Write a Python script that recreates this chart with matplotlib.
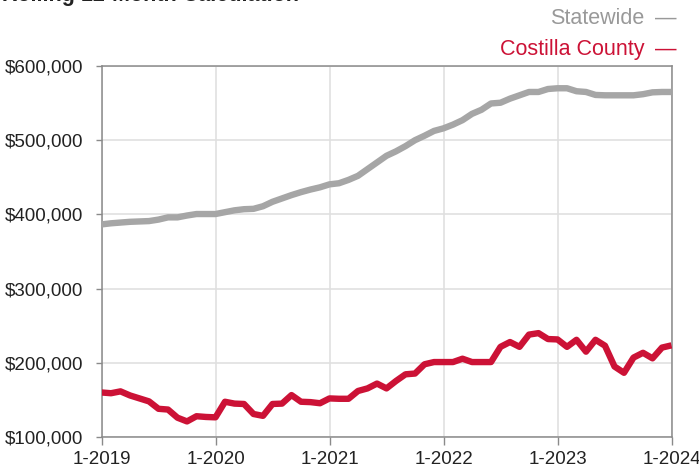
import matplotlib
matplotlib.use("Agg")
import matplotlib.pyplot as plt
from matplotlib.ticker import FuncFormatter

plt.rcParams['font.family'] = ['Liberation Sans', 'DejaVu Sans']

# Monthly data, 1-2019 .. 1-2024 (61 months)
statewide = [
    386.5, 388, 389, 390, 390.5, 391, 393, 396, 396, 398.5, 400.5, 400.5,
    400.5, 403, 405.5, 407, 407.5, 411, 417, 421.5, 426, 430, 433.5, 436.5,
    440.5, 442, 446.5, 452, 461, 470, 479, 485, 492, 500, 506, 512.5,
    516, 521, 527, 535.5, 541, 549.5, 550.5, 556, 560.5, 565, 565, 569,
    570, 570, 566, 565, 561, 560.5, 560.5, 560.5, 560.5, 562, 564.5, 565,
    565,
]
costilla = [
    160, 159, 161.5, 156, 152, 148, 138, 137, 126, 121, 128, 127,
    126.5, 147.5, 145, 144.5, 131, 128.5, 144.5, 145, 156.5, 147.5, 147, 145.5,
    152, 151.5, 151.5, 162, 165.5, 172, 165.5, 175.5, 184.5, 185.5, 198, 201,
    201, 201, 205.5, 201, 201, 201, 221.5, 228, 221.5, 238, 240, 232,
    231.5, 221.5, 231, 215, 231, 223, 195, 186.5, 207, 213.5, 206, 220.5,
    223.5,
]
statewide = [v * 1000 for v in statewide]
costilla = [v * 1000 for v in costilla]
months = list(range(len(statewide)))
x_tick_pos = [0, 12, 24, 36, 48, 60]
x_tick_labels = ["1-2019", "1-2020", "1-2021", "1-2022", "1-2023", "1-2024"]
y_ticks = [100000, 200000, 300000, 400000, 500000, 600000]

W, H = 699, 468
fig = plt.figure(figsize=(W / 100, H / 100), dpi=100)
ax = fig.add_axes([101.5 / W, 1 - 437 / H, 570 / W, 371 / H])

gray = '#a6a6a6'
red = '#cc1236'
ax.plot(months, statewide, color=gray, lw=4.6, solid_joinstyle='round', solid_capstyle='butt', zorder=3)
ax.plot(months, costilla, color=red, lw=4.6, solid_joinstyle='round', solid_capstyle='butt', zorder=3)

ax.set_xlim(0, 60)
ax.set_ylim(100000, 600000)
ax.set_xticks(x_tick_pos)
ax.set_xticklabels(x_tick_labels)
ax.set_yticks(y_ticks)
ax.yaxis.set_major_formatter(FuncFormatter(lambda v, p: f"${int(v):,}"))

ax.grid(True, color='#e0e0e0', lw=1.2, zorder=0)
ax.set_axisbelow(True)
for s in ax.spines.values():
    s.set_color('#8a8a8a')
    s.set_linewidth(1.1)
ax.tick_params(axis='y', length=4, width=1, color='#8a8a8a', labelsize=13.5, pad=9, labelcolor='#222222')
ax.tick_params(axis='x', length=6, width=1, color='#8a8a8a', labelsize=13.5, pad=4, labelcolor='#222222')

# Title (cut off at top in reference)
fig.text(2 / W, 1 - 1 / H, "Rolling 12-Month Calculation", fontsize=15.5, fontweight='bold',
         color='#222222', ha='left', va='baseline')

# Legend as text
fig.text(644 / W, 1 - 18 / H, "Statewide", fontsize=15.5, color='#999999', ha='right', va='center')
fig.text(666 / W, 1 - 18 / H, "—", fontsize=15.5, color='#999999', ha='center', va='center')
fig.text(644 / W, 1 - 49 / H, "Costilla County", fontsize=15.5, color=red, ha='right', va='center')
fig.text(666 / W, 1 - 49 / H, "—", fontsize=15.5, color=red, ha='center', va='center')

fig.savefig("out.png", dpi=100)
